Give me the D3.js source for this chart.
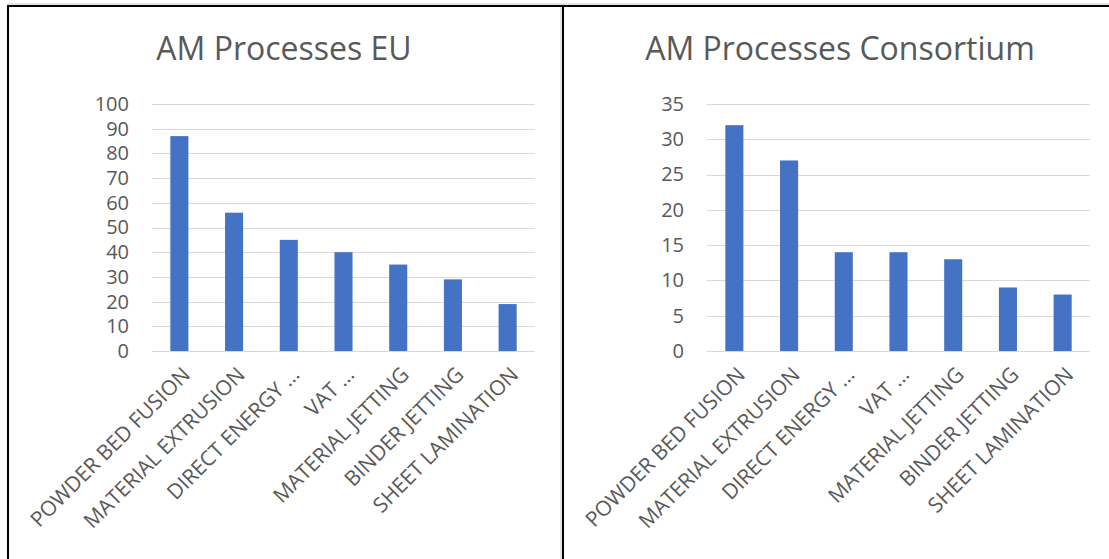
<!DOCTYPE html>
<html>
<head>
<meta charset="utf-8">
<script src="https://cdn.jsdelivr.net/npm/d3@7"></script>
<style>
  html, body { margin: 0; padding: 0; background: #fff; }
  svg { display: block; }
  text { font-family: "Open Sans", "Noto Sans", sans-serif; fill: #595959; }
</style>
</head>
<body>
<svg id="chart" width="1109" height="559"></svg>
<script>
// AM process categories (Excel-style truncated labels)
const categories = [
  "POWDER BED FUSION",
  "MATERIAL EXTRUSION",
  "DIRECT ENERGY \u2026",
  "VAT \u2026",
  "MATERIAL JETTING",
  "BINDER JETTING",
  "SHEET LAMINATION"
];

const euValues = [87, 56, 45, 40, 35, 29, 19];
const consortiumValues = [32, 27, 14, 14, 13, 9, 8];

const euTicks = [0, 10, 20, 30, 40, 50, 60, 70, 80, 90, 100];
const consortiumTicks = [0, 5, 10, 15, 20, 25, 30, 35];

const titles = ["AM Processes EU", "AM Processes Consortium"];

const svg = d3.select("#chart");

// Panel frames
svg.append("line").attr("x1", 7).attr("x2", 1109).attr("y1", 4).attr("y2", 4)
  .attr("stroke", "#c8c8c8").attr("stroke-width", 1);
svg.append("line").attr("x1", 7).attr("x2", 1109).attr("y1", 6).attr("y2", 6)
  .attr("stroke", "#000").attr("stroke-width", 2);
svg.append("line").attr("x1", 8).attr("x2", 8).attr("y1", 5).attr("y2", 559)
  .attr("stroke", "#000").attr("stroke-width", 2);
svg.append("line").attr("x1", 561).attr("x2", 561).attr("y1", 7).attr("y2", 559)
  .attr("stroke", "#c8c8c8").attr("stroke-width", 1);
svg.append("line").attr("x1", 563).attr("x2", 563).attr("y1", 5).attr("y2", 559)
  .attr("stroke", "#000").attr("stroke-width", 2);

const panels = [
  { title: titles[0], values: euValues, ticks: euTicks, left: 152, right: 535, titleX: 284 },
  { title: titles[1], values: consortiumValues, ticks: consortiumTicks, left: 707, right: 1090, titleX: 840 }
];

const plotTop = 104, plotBottom = 351;

panels.forEach(p => {
  const g = svg.append("g");

  const x = d3.scaleBand().domain(categories).range([p.left, p.right]).paddingInner(0.67).paddingOuter(0.335);
  const y = d3.scaleLinear().domain([0, d3.max(p.ticks)]).range([plotBottom, plotTop]);

  // Title
  g.append("text")
    .attr("x", p.titleX).attr("y", 60)
    .attr("text-anchor", "middle")
    .style("font-size", "32px")
    .text(p.title);

  // Gridlines
  g.append("g").selectAll("line").data(p.ticks).join("line")
    .attr("x1", p.left).attr("x2", p.right)
    .attr("y1", d => Math.round(y(d)) + 0.5).attr("y2", d => Math.round(y(d)) + 0.5)
    .attr("stroke", "#d9d9d9").attr("stroke-width", 1);

  // Y axis labels
  const yAxis = d3.axisLeft(y).tickValues(p.ticks).tickSize(0).tickPadding(23);
  const ya = g.append("g").attr("transform", `translate(${p.left},0)`).call(yAxis);
  ya.select(".domain").remove();
  ya.selectAll("text").style("font-size", "20px").attr("fill", "#595959")
    .style("font-family", "\"Open Sans\", sans-serif");

  // Bars
  g.append("g").selectAll("rect").data(p.values).join("rect")
    .attr("x", (d, i) => x(categories[i]))
    .attr("width", x.bandwidth())
    .attr("y", d => y(d))
    .attr("height", d => y(0) - y(d))
    .attr("fill", "#4472c4");

  // X axis labels, rotated 45 degrees
  const xAxis = d3.axisBottom(x).tickSize(0).tickPadding(0);
  const xa = g.append("g").attr("transform", `translate(0,${plotBottom})`).call(xAxis);
  xa.select(".domain").remove();
  xa.selectAll("text")
    .style("font-size", "21px")
    .style("font-family", "\"Open Sans\", sans-serif")
    .attr("fill", "#595959")
    .attr("text-anchor", "end")
    .attr("dy", 0)
    .attr("transform", "translate(12,25) rotate(-45)");
});
</script>
</body>
</html>
